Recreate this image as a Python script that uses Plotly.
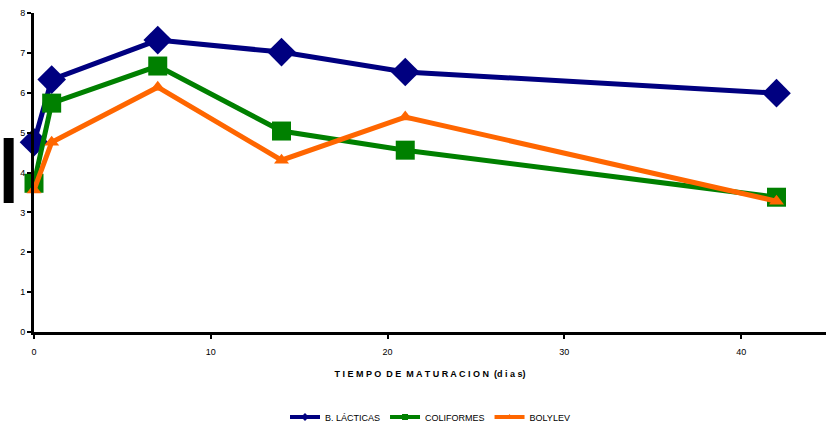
import plotly.graph_objects as go

dias = [0, 1, 7, 14, 21, 42]
b_lacticas = [4.76, 6.33, 7.32, 7.02, 6.52, 5.99]
coliformes = [3.73, 5.74, 6.67, 5.04, 4.56, 3.38]
bolylev = [3.56, 4.76, 6.14, 4.31, 5.39, 3.28]

x_ticks = [0, 10, 20, 30, 40]
y_ticks = [0, 1, 2, 3, 4, 5, 6, 7, 8]

series = [
    ("B. LÁCTICAS", b_lacticas, "#000080", "diamond", 22),
    ("COLIFORMES", coliformes, "#008000", "square", 19),
    ("BOLYLEV", bolylev, "#FF6600", "triangle-up", 13),
]

fig = go.Figure()
for name, vals, color, sym, size in series:
    fig.add_trace(go.Scatter(x=dias, y=vals, name=name, mode="lines+markers",
                             line=dict(color=color, width=5), cliponaxis=False,
                             showlegend=False,
                             marker=dict(symbol=sym, size=size, color=color)))
for name, vals, color, sym, size in series:
    fig.add_trace(go.Scatter(x=[None], y=[None], name=name, mode="lines+markers",
                             line=dict(color=color, width=4),
                             marker=dict(symbol=sym, size=6, color=color)))

fig.update_layout(
    width=827, height=428,
    margin=dict(l=34, r=1, t=13, b=96, autoexpand=False),
    paper_bgcolor="white", plot_bgcolor="white",
    font=dict(family="Liberation Sans, Arial", size=9, color="black"),
    showlegend=True,
    legend=dict(orientation="h", x=0.5, xanchor="center",
                yref="container", y=11 / 428, yanchor="middle",
                font=dict(size=9, family="Liberation Sans, Arial"),
                itemwidth=30, tracegroupgap=0),
    xaxis=dict(range=[0, 44.8], tickvals=x_ticks, showgrid=False, zeroline=False,
               showline=True, linecolor="black", linewidth=3, automargin=False,
               ticks="outside", ticklen=4, tickwidth=2, tickcolor="black",
               ticklabelstandoff=5,
               tickfont=dict(size=9),
               title=dict(text="<b>T I E M P O  D E  M A T U R A C I O N  (d i a s)</b>",
                          font=dict(size=9), standoff=15)),
    yaxis=dict(range=[0, 8], tickvals=y_ticks, showgrid=False, zeroline=False,
               showline=True, linecolor="black", linewidth=3, automargin=False,
               ticks="outside", ticklen=4, tickwidth=2, tickcolor="black",
               tickfont=dict(size=9)),
)
fig.add_shape(type="rect", xref="paper", yref="paper", x0=-0.0383, x1=-0.0257,
              y0=(332 - 203) / 319, y1=(332 - 138) / 319,
              fillcolor="black", line=dict(width=0))

fig.write_html("out.html", config={"displayModeBar": False},
               post_script="document.body.style.margin='0';document.body.style.padding='0';")
